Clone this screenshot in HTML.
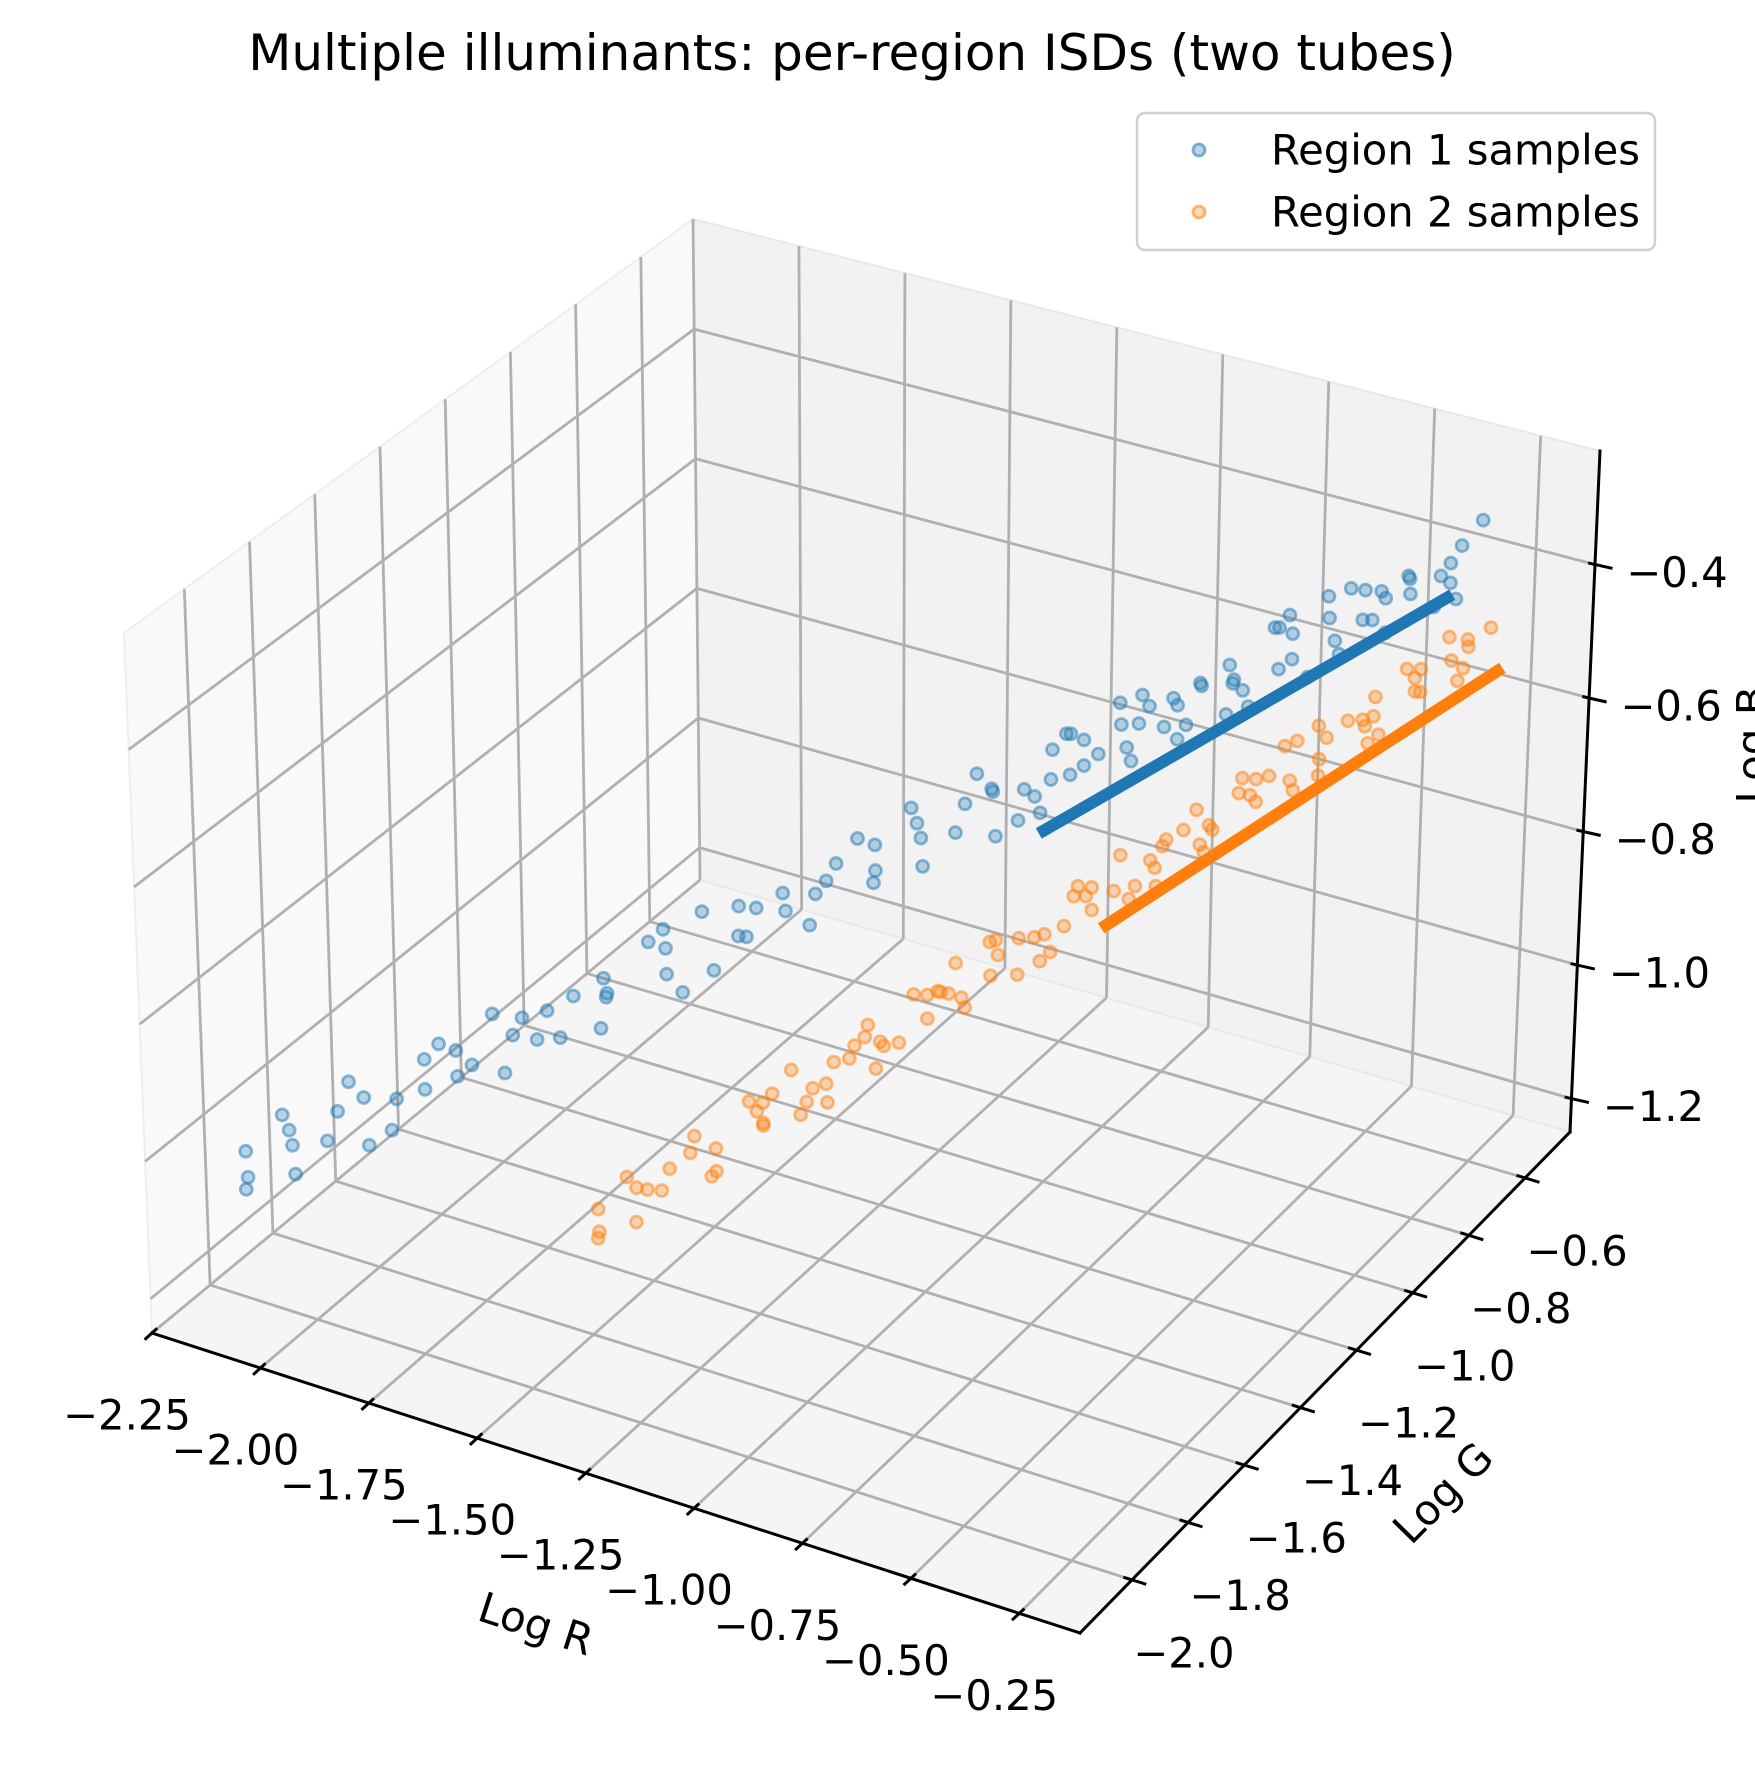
<!DOCTYPE html>
<html><head><meta charset="utf-8"><style>
html,body{margin:0;padding:0;background:#fff;}
svg{display:block;font-family:"DejaVu Sans","Liberation Sans",sans-serif;}
</style></head><body>
<svg id="chart" width="1755" height="1769" viewBox="0 0 1755 1769" xmlns="http://www.w3.org/2000/svg">
<text x="852" y="53" font-size="50" text-anchor="middle" dominant-baseline="central" fill="#000">Multiple illuminants: per-region ISDs (two tubes)</text>
<g id="panes"></g>
<g id="grid"></g>
<g id="axes"></g>
<g id="marks"></g>
<text x="536" y="1624" font-size="42" text-anchor="middle" dominant-baseline="central" transform="rotate(18 536 1624)">Log R</text>
<text x="1443" y="1493" font-size="42" text-anchor="middle" dominant-baseline="central" transform="rotate(-45.5 1443 1493)">Log G</text>
<text x="1752" y="745" font-size="42" text-anchor="middle" dominant-baseline="central" transform="rotate(-90 1752 745)">Log B</text>
<g>
<rect x="1137" y="113" width="518" height="137" rx="8" fill="#fff" fill-opacity="0.8" stroke="#d0d0d0" stroke-width="2.5"/>
<g>
<circle cx="1199" cy="150" r="6" fill="#1f77b4" fill-opacity="0.3" stroke="#1f77b4" stroke-opacity="0.55" stroke-width="2.8"/>
<text x="1271" y="150" font-size="41.7" dominant-baseline="central">Region 1 samples</text>
</g>
<g>
<circle cx="1199" cy="212" r="6" fill="#ff7f0e" fill-opacity="0.3" stroke="#ff7f0e" stroke-opacity="0.55" stroke-width="2.8"/>
<text x="1271" y="212" font-size="41.7" dominant-baseline="central">Region 2 samples</text>
</g>
</g>
</svg>
<script>
// ---- axis ranges & ticks ----
const xLim = [-2.25, -0.11];
const yLim = [-2.185, -0.44];
const zLim = [-1.25, -0.23];
const xTicks = [-2.25, -2.0, -1.75, -1.5, -1.25, -1.0, -0.75, -0.5, -0.25];
const xTickLabels = ["\u22122.25","\u22122.00","\u22121.75","\u22121.50","\u22121.25","\u22121.00","\u22120.75","\u22120.50","\u22120.25"];
const yTicks = [-2.0, -1.8, -1.6, -1.4, -1.2, -1.0, -0.8, -0.6];
const yTickLabels = ["\u22122.0","\u22121.8","\u22121.6","\u22121.4","\u22121.2","\u22121.0","\u22120.8","\u22120.6"];
const zTicks = [-1.2, -1.0, -0.8, -0.6, -0.4];
const zTickLabels = ["\u22121.2","\u22121.0","\u22120.8","\u22120.6","\u22120.4"];

// ---- Region 1 samples ----
const r1LogR = [-2.180,-2.148,-2.116,-2.084,-2.052,-2.020,-1.988,-1.956,-1.924,-1.892,-1.860,-1.828,-1.796,-1.764,-1.732,-1.700,-1.668,-1.636,-1.604,-1.572,-1.540,-1.508,-1.476,-1.444,-1.412,-1.380,-1.348,-1.316,-1.284,-1.252,-1.220,-1.188,-1.156,-1.124,-1.092,-1.060,-1.028,-0.996,-0.964,-0.932,-0.900,-0.868,-0.836,-0.804,-0.772,-0.740,-0.708,-0.676,-0.644,-0.612,-0.580,-0.548,-0.516,-0.484,-0.452,-0.420,-0.388,-0.356,-0.324,-0.292,
-1.012,-0.980,-0.948,-0.916,-0.884,-0.852,-0.820,-0.788,-0.756,-0.724,-0.692,-0.660,-0.628,-0.596,-0.564,-0.532,-0.500,-0.468,-0.436,-0.404,-0.372,-0.340,-0.308,
-2.164,-2.116,-2.068,-2.020,-1.972,-1.924,-1.876,-1.828,-1.780,-1.732,-1.684,-1.636,-1.588,-1.540,-1.492,-1.444,-1.396,-1.348,-1.300,-1.252,-1.204,-1.156,-1.108,-1.060,-1.012,-0.964,-0.916,-0.868,-0.820,-0.772,-0.724,-0.676,-0.628,-0.580,-0.532,-0.484,-0.436,-0.388,-0.340,-0.292];
const r1LogG = [-1.963,-2.010,-1.936,-1.943,-1.849,-1.926,-1.852,-1.809,-1.835,-1.742,-1.728,-1.775,-1.701,-1.708,-1.614,-1.691,-1.617,-1.574,-1.600,-1.507,-1.493,-1.540,-1.466,-1.473,-1.379,-1.456,-1.382,-1.339,-1.365,-1.272,-1.258,-1.305,-1.231,-1.238,-1.144,-1.221,-1.147,-1.104,-1.130,-1.037,-1.023,-1.070,-0.996,-1.003,-0.909,-0.986,-0.912,-0.869,-0.895,-0.802,-0.788,-0.835,-0.761,-0.768,-0.674,-0.751,-0.677,-0.634,-0.660,-0.567,
-1.166,-1.072,-1.099,-1.045,-1.092,-0.968,-0.995,-0.991,-0.918,-0.964,-0.931,-0.837,-0.864,-0.810,-0.857,-0.733,-0.760,-0.756,-0.683,-0.729,-0.696,-0.602,-0.629,
-1.991,-1.916,-1.971,-1.855,-1.860,-1.745,-1.810,-1.725,-1.659,-1.694,-1.639,-1.564,-1.619,-1.503,-1.508,-1.393,-1.458,-1.373,-1.307,-1.342,-1.287,-1.212,-1.267,-1.151,-1.156,-1.041,-1.106,-1.021,-0.955,-0.990,-0.935,-0.860,-0.915,-0.799,-0.804,-0.689,-0.754,-0.669,-0.603,-0.638];
const r1LogB = [-1.092,-1.030,-0.998,-1.076,-1.013,-1.021,-0.979,-1.037,-0.975,-0.923,-0.970,-0.908,-0.876,-0.954,-0.892,-0.899,-0.857,-0.915,-0.853,-0.801,-0.848,-0.786,-0.754,-0.832,-0.770,-0.777,-0.735,-0.793,-0.731,-0.679,-0.726,-0.664,-0.632,-0.710,-0.648,-0.655,-0.613,-0.671,-0.609,-0.557,-0.604,-0.542,-0.510,-0.588,-0.526,-0.533,-0.491,-0.549,-0.487,-0.435,-0.482,-0.420,-0.388,-0.466,-0.404,-0.411,-0.369,-0.427,-0.365,-0.313,
-0.607,-0.645,-0.653,-0.551,-0.588,-0.556,-0.574,-0.492,-0.530,-0.557,-0.485,-0.523,-0.531,-0.429,-0.467,-0.434,-0.452,-0.370,-0.408,-0.436,-0.363,-0.401,-0.409,
-1.096,-1.028,-1.020,-0.961,-1.043,-0.995,-0.917,-0.948,-0.920,-0.872,-0.913,-0.845,-0.837,-0.778,-0.860,-0.812,-0.734,-0.765,-0.737,-0.689,-0.730,-0.662,-0.654,-0.595,-0.677,-0.629,-0.551,-0.582,-0.554,-0.506,-0.547,-0.479,-0.471,-0.412,-0.494,-0.446,-0.368,-0.399,-0.371,-0.323];

// ---- Region 2 samples ----
const r2LogR = [-1.550,-1.526,-1.502,-1.478,-1.454,-1.430,-1.406,-1.382,-1.358,-1.334,-1.310,-1.286,-1.262,-1.238,-1.214,-1.190,-1.166,-1.142,-1.118,-1.094,-1.070,-1.046,-1.022,-0.998,-0.974,-0.950,-0.926,-0.902,-0.878,-0.854,-0.830,-0.806,-0.782,-0.758,-0.734,-0.710,-0.686,-0.662,-0.638,-0.614,-0.590,-0.566,-0.542,-0.518,-0.494,-0.470,-0.446,-0.422,-0.398,-0.374,-0.350,-0.326,-0.302,-0.278,-0.254,
-1.298,-1.250,-1.202,-1.154,-1.106,-1.058,-1.010,-0.962,-0.914,-0.866,-0.818,-0.770,-0.722,-0.674,-0.626,-0.578,-0.530,-0.482,-0.434,-0.386,-0.338,-0.290,-0.266,
-1.538,-1.494,-1.450,-1.406,-1.362,-1.318,-1.274,-1.230,-1.186,-1.142,-1.098,-1.054,-1.010,-0.966,-0.922,-0.878,-0.834,-0.790,-0.746,-0.702,-0.658,-0.614,-0.570,-0.526,-0.482,-0.438,-0.394,-0.350,-0.306,-0.262];
const r2LogG = [-1.707,-1.743,-1.682,-1.686,-1.609,-1.669,-1.608,-1.572,-1.591,-1.515,-1.502,-1.537,-1.477,-1.480,-1.404,-1.463,-1.403,-1.366,-1.386,-1.309,-1.297,-1.332,-1.272,-1.275,-1.199,-1.258,-1.198,-1.161,-1.181,-1.104,-1.091,-1.127,-1.066,-1.070,-0.993,-1.053,-0.992,-0.956,-0.975,-0.899,-0.886,-0.922,-0.861,-0.865,-0.788,-0.848,-0.787,-0.751,-0.770,-0.693,-0.681,-0.716,-0.656,-0.659,-0.583,
-1.540,-1.443,-1.442,-1.376,-1.391,-1.270,-1.269,-1.244,-1.163,-1.178,-1.129,-1.032,-1.031,-0.966,-0.981,-0.860,-0.859,-0.834,-0.753,-0.768,-0.719,-0.622,-0.642,
-1.728,-1.662,-1.688,-1.594,-1.584,-1.491,-1.523,-1.451,-1.392,-1.403,-1.352,-1.286,-1.312,-1.218,-1.208,-1.115,-1.147,-1.075,-1.016,-1.027,-0.976,-0.910,-0.936,-0.842,-0.832,-0.739,-0.771,-0.699,-0.640,-0.651];
const r2LogB = [-1.146,-1.094,-1.066,-1.126,-1.073,-1.077,-1.041,-1.085,-1.032,-0.988,-1.024,-0.972,-0.943,-1.003,-0.951,-0.955,-0.918,-0.962,-0.910,-0.866,-0.902,-0.849,-0.821,-0.881,-0.829,-0.832,-0.796,-0.840,-0.788,-0.743,-0.779,-0.727,-0.699,-0.758,-0.706,-0.710,-0.674,-0.717,-0.665,-0.621,-0.657,-0.605,-0.576,-0.636,-0.584,-0.588,-0.551,-0.595,-0.543,-0.499,-0.534,-0.482,-0.454,-0.514,-0.461,
-0.986,-1.001,-0.993,-0.896,-0.912,-0.871,-0.871,-0.790,-0.806,-0.813,-0.741,-0.756,-0.748,-0.652,-0.667,-0.627,-0.626,-0.546,-0.561,-0.569,-0.496,-0.512,-0.468,
-1.145,-1.088,-1.072,-1.022,-1.069,-1.026,-0.962,-0.974,-0.945,-0.901,-0.921,-0.863,-0.848,-0.798,-0.845,-0.802,-0.737,-0.750,-0.720,-0.677,-0.697,-0.639,-0.624,-0.573,-0.621,-0.577,-0.513,-0.526,-0.496,-0.453];

// ---- fitted ISD lines (start, end) ----
const fit1LogR = [-0.945, -0.318];
const fit1LogG = [-1.107, -0.627];
const fit1LogB = [-0.680, -0.405];
const fit2LogR = [-0.794, -0.211];
const fit2LogG = [-1.110, -0.602];
const fit2LogB = [-0.792, -0.506];

// ---- projection: trilinear map of box corners to screen ----
const C = {
 "000":[152,1333],"100":[1080,1633],"110":[1570,1132],"010":[700,880],
 "001":[124,633],"101":[1089,913],"111":[1600,451],"011":[693,219]
};
function proj(x,y,z){
  const u=(x-xLim[0])/(xLim[1]-xLim[0]);
  const v=(y-yLim[0])/(yLim[1]-yLim[0]);
  const w=(z-zLim[0])/(zLim[1]-zLim[0]);
  let px=0,py=0;
  for(const a of [0,1])for(const b of [0,1])for(const c of [0,1]){
    const wt=(a?u:1-u)*(b?v:1-v)*(c?w:1-w);
    const p=C[""+a+b+c]; px+=wt*p[0]; py+=wt*p[1];
  }
  return [px,py];
}
const NS="http://www.w3.org/2000/svg";
function mk(tag,parent,attrs){
  const e=document.createElementNS(NS,tag);
  for(const k in attrs)e.setAttribute(k,attrs[k]);
  parent.appendChild(e);return e;
}
const panes=document.getElementById('panes');
const grid=document.getElementById('grid');
const axes=document.getElementById('axes');
const marks=document.getElementById('marks');
const [X0,X1]=xLim,[Y0,Y1]=yLim,[Z0,Z1]=zLim;
function poly(pts){return pts.map(p=>proj(...p).join(',')).join(' ');}

let pe;
pe=mk('polygon',panes,{points:poly([[X0,Y0,Z0],[X1,Y0,Z0],[X1,Y1,Z0],[X0,Y1,Z0]]),fill:'#f5f5f5',stroke:'#ececec','stroke-width':2});


pe=mk('polygon',panes,{points:poly([[X0,Y0,Z0],[X0,Y1,Z0],[X0,Y1,Z1],[X0,Y0,Z1]]),fill:'#f9f9f9',stroke:'#eeeeee','stroke-width':2});


pe=mk('polygon',panes,{points:poly([[X0,Y1,Z0],[X1,Y1,Z0],[X1,Y1,Z1],[X0,Y1,Z1]]),fill:'#f2f2f2',stroke:'#e8e8e8','stroke-width':2});



function gline(a,b,name){
  const p=proj(...a),q=proj(...b);
  const l=mk('line',grid,{x1:p[0],y1:p[1],x2:q[0],y2:q[1],stroke:'#b0b0b0','stroke-width':2.8});
  
  
}
xTicks.forEach(t=>{gline([t,Y0,Z0],[t,Y1,Z0],'x-grid-floor');gline([t,Y1,Z0],[t,Y1,Z1],'x-grid-back');});
yTicks.forEach(t=>{gline([X0,t,Z0],[X1,t,Z0],'y-grid-floor');gline([X0,t,Z0],[X0,t,Z1],'y-grid-left');});
zTicks.forEach(t=>{gline([X0,Y0,t],[X0,Y1,t],'z-grid-left');gline([X0,Y1,t],[X1,Y1,t],'z-grid-back');});

function aline(a,b,name){
  const p=proj(...a),q=proj(...b);
  const l=mk('line',axes,{x1:p[0],y1:p[1],x2:q[0],y2:q[1],stroke:'#000','stroke-width':3,'stroke-linecap':'square'});
  
  
}
aline([X0,Y0,Z0],[X1,Y0,Z0],'x-axis-line');
aline([X1,Y0,Z0],[X1,Y1,Z0],'y-axis-line');
aline([X1,Y1,Z0],[X1,Y1,Z1],'z-axis-line');

function tick(p,dir,outL,inL,lab,off,name){
  const a=[p[0]+dir[0]*outL,p[1]+dir[1]*outL],b=[p[0]-dir[0]*inL,p[1]-dir[1]*inL];
  const l=mk('line',axes,{x1:a[0],y1:a[1],x2:b[0],y2:b[1],stroke:'#000','stroke-width':3});
  
  
  const t=mk('text',axes,{x:p[0]+off[0],y:p[1]+off[1],'font-size':41.7,'text-anchor':'middle','dominant-baseline':'central',fill:'#000'});
  t.textContent=lab;
  
  
}
xTicks.forEach((t,i)=>tick(proj(t,Y0,Z0),[-0.736,0.677],10,7,xTickLabels[i],[-25,82],'x'));
yTicks.forEach((t,i)=>tick(proj(X1,t,Z0),[0.956,0.294],15,9,yTickLabels[i],[52,73],'y'));
zTicks.forEach((t,i)=>tick(proj(X1,Y1,t),[0.97,0.22],18,7,zTickLabels[i],[82,8],'z'));

function scatter(R,G,B,color,name){
  for(let i=0;i<R.length;i++){
    const p=proj(R[i],G[i],B[i]);
    const c=mk('circle',marks,{cx:p[0],cy:p[1],r:6,fill:color,'fill-opacity':0.3,stroke:color,'stroke-opacity':0.5,'stroke-width':2.8});
    
    
  }
}
scatter(r1LogR,r1LogG,r1LogB,'#1f77b4','region-1-sample');
scatter(r2LogR,r2LogG,r2LogB,'#ff7f0e','region-2-sample');
function fit(R,G,B,color,name){
  const p=proj(R[0],G[0],B[0]),q=proj(R[1],G[1],B[1]);
  const l=mk('line',marks,{x1:p[0],y1:p[1],x2:q[0],y2:q[1],stroke:color,'stroke-width':12});
  
  
}
fit(fit1LogR,fit1LogG,fit1LogB,'#1f77b4','region-1-isd-line');
fit(fit2LogR,fit2LogG,fit2LogB,'#ff7f0e','region-2-isd-line');
</script>
</body></html>
